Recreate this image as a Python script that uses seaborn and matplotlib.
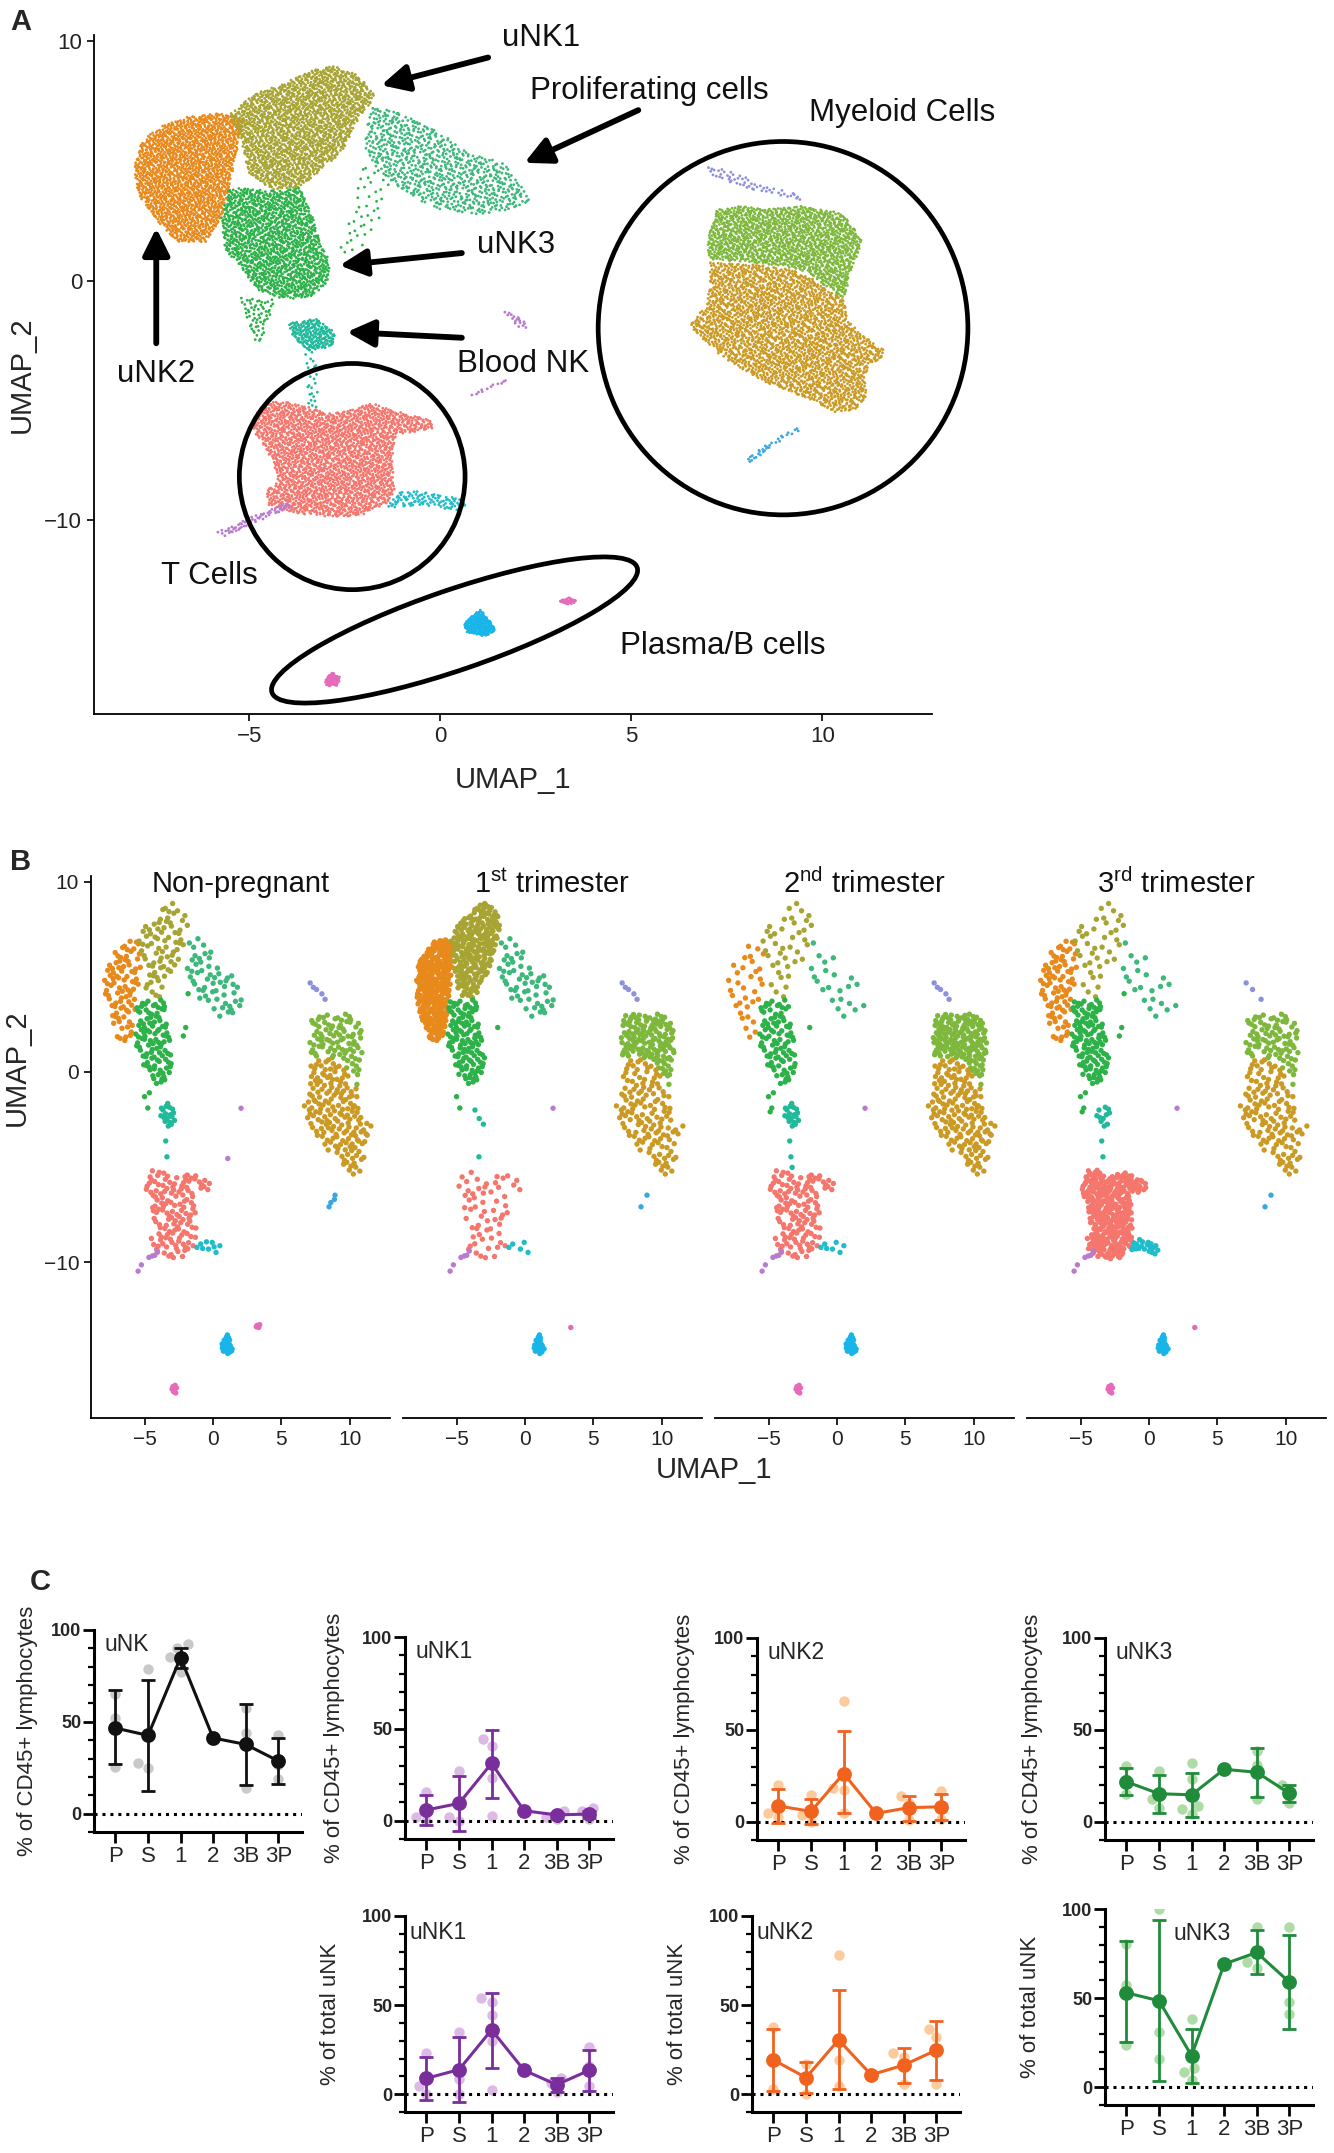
import numpy as np
import pandas as pd
import matplotlib
matplotlib.use("Agg")
import matplotlib.pyplot as plt
import seaborn as sns
from matplotlib.path import Path
from matplotlib.patches import Ellipse
from matplotlib.transforms import IdentityTransform
from matplotlib.ticker import MultipleLocator

# ======================= DATA =======================
# --- Panel A/B: cluster outlines in UMAP coordinates
UNK2_X = [-8.02, -7.81, -7.19, -6.57, -5.74, -5.12, -5.33, -5.53, -5.74, -6.15, -6.88, -7.40, -7.91]
UNK2_Y = [4.74, 5.87, 6.58, 6.86, 7.00, 6.72, 5.45, 3.89, 2.62, 1.63, 1.63, 2.48, 3.60]
UNK1_X = [-5.53, -4.81, -4.08, -3.26, -2.74, -2.12, -1.70, -2.22, -2.53, -3.26, -3.67, -4.40, -5.02, -5.22, -5.43]
UNK1_Y = [7.00, 7.85, 8.27, 8.84, 8.98, 8.56, 7.71, 6.58, 5.45, 4.46, 3.89, 3.82, 4.46, 5.87, 6.72]
PROLIF_X = [-1.81, -1.19, -0.15, 0.89, 1.71, 2.02, 2.44, 1.82, 0.89, -0.15, -0.98, -1.70, -2.01]
PROLIF_Y = [7.28, 7.14, 6.29, 5.30, 4.88, 4.17, 3.32, 2.97, 2.76, 3.04, 3.75, 4.74, 5.73]
TRAIL_X = [-2.00, -1.30, -1.60, -2.20, -2.70, -2.30]
TRAIL_Y = [5.00, 4.30, 2.50, 1.00, 1.20, 3.00]
UNK3_X = [-5.53, -4.29, -3.67, -3.36, -3.15, -2.89, -2.95, -3.36, -4.08, -4.81, -5.22, -5.64, -5.74]
UNK3_Y = [3.89, 3.75, 3.89, 2.76, 1.63, 0.78, -0.07, -0.64, -0.78, -0.35, 0.50, 1.34, 2.62]
UNK3T_X = [-5.25, -4.30, -4.50, -4.60, -4.85, -5.10]
UNK3T_Y = [-0.70, -0.80, -1.60, -2.50, -2.50, -1.50]
BLOOD_X = [-3.97, -3.26, -2.74, -2.84, -3.46, -3.88]
BLOOD_Y = [-1.77, -1.56, -2.19, -2.76, -2.90, -2.33]
BLOODT_X = [-3.55, -3.25, -3.20, -3.45]
BLOODT_Y = [-2.80, -2.80, -5.30, -5.30]
TC_X = [-4.79, -4.27, -3.65, -2.81, -1.77, -1.25, -0.21, -0.16, -1.15, -1.25, -1.20, -1.35, -1.98, -2.60, -3.65, -4.48, -4.58, -4.27, -4.38, -4.69, -4.90]
TC_Y = [-5.40, -4.98, -5.20, -5.55, -5.12, -5.40, -5.85, -6.20, -6.40, -7.55, -8.70, -9.25, -9.75, -9.89, -9.75, -9.40, -8.82, -8.40, -7.55, -6.70, -6.27]
TTAIL_X = [-1.46, -1.04, -0.52, 0.10, 0.52, 0.78, 0.42, -0.52]
TTAIL_Y = [-9.51, -8.79, -8.79, -8.94, -9.15, -9.44, -9.58, -9.37]
PURP1_X = [-5.85, -4.00, -3.90, -5.70]
PURP1_Y = [-10.50, -9.20, -9.45, -10.70]
PURP2_X = [1.45, 1.85, 2.20, 2.25, 2.05, 1.80]
PURP2_Y = [-1.20, -1.35, -1.60, -2.00, -1.95, -1.50]
PURP3_X = [0.75, 1.75, 1.80, 0.80]
PURP3_Y = [-4.75, -4.05, -4.20, -4.85]
MYEG_X = [7.23, 7.75, 8.54, 9.41, 10.46, 10.81, 11.02, 10.98, 10.72, 10.63, 10.28, 9.67, 8.97, 8.10, 7.05, 6.97, 7.05]
MYEG_Y = [2.99, 3.13, 2.99, 3.13, 2.85, 2.29, 1.73, 1.18, 0.34, -0.77, -0.49, 0.34, 0.62, 0.76, 0.90, 1.45, 2.15]
MYEO_X = [7.05, 8.10, 8.97, 9.67, 10.28, 10.63, 10.63, 11.07, 11.59, 11.59, 11.24, 11.11, 11.16, 10.89, 10.37, 9.67, 8.97, 8.10, 7.23, 6.53, 6.71, 6.97, 7.05]
MYEO_Y = [0.76, 0.69, 0.55, 0.20, -0.49, -0.91, -1.61, -2.30, -2.86, -3.28, -3.42, -4.11, -4.81, -5.36, -5.50, -4.95, -4.53, -3.97, -2.99, -1.88, -1.46, -1.04, -0.21]
LAV_X = [6.95, 7.60, 8.60, 9.45, 9.40, 8.50, 7.60, 7.00]
LAV_Y = [4.85, 4.55, 3.95, 3.55, 3.30, 3.65, 4.10, 4.50]
BLUE_X = [8.10, 8.50, 9.00, 9.45, 9.35, 8.85, 8.35, 8.05]
BLUE_Y = [-7.65, -7.15, -6.60, -6.25, -6.15, -6.50, -7.05, -7.40]
PLASMA_X = [0.60, 0.85, 1.05, 1.30, 1.45, 1.15, 0.70]
PLASMA_Y = [-14.30, -13.95, -13.75, -14.20, -14.65, -14.85, -14.70]
PINK1_X = [-3.05, -2.85, -2.62, -2.68, -2.95]
PINK1_Y = [-16.75, -16.35, -16.55, -16.90, -16.95]
PINK2_X = [3.10, 3.35, 3.60, 3.35]
PINK2_Y = [-13.40, -13.22, -13.38, -13.55]

CLUSTER_NAMES = ["uNK2", "uNK1", "Prolif", "uNK3", "uNK3", "uNK3", "BloodNK", "BloodNK", "T", "Ttail",
                 "Purple", "Purple", "Purple", "MyeG", "MyeGold", "Lav", "Blue", "Plasma", "Pink", "Pink"]
OUTLINES = [(UNK2_X, UNK2_Y), (UNK1_X, UNK1_Y), (PROLIF_X, PROLIF_Y), (TRAIL_X, TRAIL_Y),
            (UNK3_X, UNK3_Y), (UNK3T_X, UNK3T_Y), (BLOOD_X, BLOOD_Y), (BLOODT_X, BLOODT_Y),
            (TC_X, TC_Y), (TTAIL_X, TTAIL_Y), (PURP1_X, PURP1_Y), (PURP2_X, PURP2_Y), (PURP3_X, PURP3_Y),
            (MYEG_X, MYEG_Y), (MYEO_X, MYEO_Y), (LAV_X, LAV_Y), (BLUE_X, BLUE_Y),
            (PLASMA_X, PLASMA_Y), (PINK1_X, PINK1_Y), (PINK2_X, PINK2_Y)]
# relative cell density of each outline (cells per UMAP unit^2)
DENS_A = [165, 150, 75, 14, 145, 60, 170, 40, 150, 95, 110, 110, 90, 150, 130, 60, 110, 420, 420, 330]
DENS_NP = [8, 6, 5, 1.5, 10, 3, 14, 3, 9, 8, 12, 14, 12, 9, 9, 8, 12, 45, 35, 35]
DENS_T1 = [25, 18, 5, 0.8, 12, 1.5, 2, 1.5, 4, 3, 12, 8, 0, 14, 7, 8, 9, 30, 0, 12]
DENS_T2 = [3, 3, 2, 0.8, 9, 4, 14, 4, 9, 7, 12, 8, 8, 16, 9, 8, 0, 45, 35, 0]
DENS_T3 = [8, 3, 2, 1.5, 12, 4, 8, 3, 22, 18, 12, 8, 0, 9, 7, 5, 5, 30, 35, 12]
FACET_TITLES = ["Non-pregnant", r"1$^{\rm st}$ trimester", r"2$^{\rm nd}$ trimester", r"3$^{\rm rd}$ trimester"]

PALETTE = {"uNK2": "#E8891C", "uNK1": "#A8A433", "Prolif": "#3BB87A", "uNK3": "#2DB24A",
           "BloodNK": "#20B99C", "T": "#F4766D", "Ttail": "#20BCC9", "Purple": "#B87BD0",
           "MyeG": "#7DB83C", "MyeGold": "#CB9A24", "Lav": "#8D91DC", "Blue": "#3AA7E3",
           "Plasma": "#19B5E8", "Pink": "#E56AB9"}

# annotation labels of panel A (text, x, y) and arrows (tail -> head)
LABEL_TEXT = ["uNK1", "Proliferating cells", "Myeloid Cells", "uNK3", "Blood NK", "uNK2", "T Cells", "Plasma/B cells"]
LABEL_X = [2.63, 5.47, 12.09, 1.98, 2.16, -7.44, -6.05, 7.39]
LABEL_Y = [10.13, 7.94, 7.01, 1.51, -3.48, -3.88, -12.34, -15.26]
ARROW_TAIL_X = [1.25, 5.18, 0.56, 0.56, -7.44]
ARROW_TAIL_Y = [9.33, 7.13, 1.16, -2.38, -2.61]
ARROW_HEAD_X = [-1.55, 2.20, -2.64, -2.45, -7.44]
ARROW_HEAD_Y = [8.17, 4.93, 0.64, -2.14, 2.20]

# --- Panel C
CATS = ["P", "S", "1", "2", "3B", "3P"]
NAN = np.nan
UNK_MEAN = [46.6, 42.6, 85.0, 41.2, 37.7, 28.7]
UNK_LO = [27.2, 12.5, 79.5, NAN, 15.6, 16.3]
UNK_HI = [67.2, 72.8, 90.4, NAN, 59.9, 41.4]
UNK_DOTS = [[65, 52, 25.6], [78.6, 24.9, 27.4], [92.2, 90.4, 85.3, 85, 77.3], [41.2], [57.7, 43.7, 13.8], [42.8, 26.5, 18.7]]

UNK1C_MEAN = [5.8, 9.4, 31.2, 5.4, 3.1, 3.6]
UNK1C_LO = [-2.4, -5.6, 12.5, NAN, 1.6, 1.6]
UNK1C_HI = [13.8, 24.5, 49.6, NAN, 4.3, 5.3]
UNK1C_DOTS = [[15.4, 0, 2.2], [27.2, 0, 2.2], [44.2, 40.6, 23, 2.5], [5.4], [5.3, 1.0, 2.0], [7, 5.3, 1.0]]

UNK2C_MEAN = [8.5, 5.6, 26.2, 4.5, 7.6, 8.1]
UNK2C_LO = [-0.5, -1.4, 4.5, NAN, 0.4, 0.9]
UNK2C_HI = [17.9, 12.5, 49.1, NAN, 13.9, 15.2]
UNK2C_DOTS = [[19.9, 2.7, 4.9], [14.3, 0, 3.4], [65.9, 18.4, 17, 4.5], [4.5], [13.9, 9.9, 0.9], [16.6, 1.6]]

UNK3C_MEAN = [21.7, 15.2, 14.6, 28.5, 26.9, 15.5]
UNK3C_LO = [14.6, 4.9, 2.7, NAN, 13.5, 10.6]
UNK3C_HI = [29.1, 25.5, 26.5, NAN, 40.1, 20.2]
UNK3C_DOTS = [[30.1, 23, 15], [27.4, 12.1, 7.6], [31.9, 23.3, 8.5, 7, 4], [28.5], [38.3, 31, 12.1], [20.2, 16.1, 10.3]]

UNK1T_MEAN = [8.9, 13.8, 36.1, 13.4, 5.3, 13.4]
UNK1T_LO = [-3.4, -4.4, 14.7, NAN, 1.1, 2.0]
UNK1T_HI = [21.0, 31.9, 56.8, NAN, 9.3, 24.7]
UNK1T_DOTS = [[23.2, 4.4, 0], [34.7, 8.3, 0], [54.1, 51.9, 44.6, 30.1, 2.5], [13.4], [8.9, 6.5, 1.5], [26.5, 15.6, 4.7]]

UNK2T_MEAN = [19.2, 9.3, 30.5, 10.9, 16.3, 24.7]
UNK2T_LO = [1.8, 0.7, 2.9, NAN, 6.5, 8.0]
UNK2T_HI = [36.5, 18.1, 58.3, NAN, 26.1, 41.0]
UNK2T_DOTS = [[37.7, 18.3, 2.9], [0, 9.3, 17], [77.9, 29.2, 19.2, 4.7], [10.9], [23.2, 21.1, 5.6], [36.5, 31.9, 5.6]]

UNK3T_MEAN = [53.0, 48.5, 17.7, 69.1, 75.6, 59.0]
UNK3T_LO = [25.5, 3.3, 2.5, NAN, 63.5, 32.5]
UNK3T_HI = [81.9, 93.7, 32.7, NAN, 88.2, 85.5]
UNK3T_DOTS = [[80.1, 57.1, 23.5], [100, 30.9, 15.6], [38, 10.5, 8.3, 4.2], [69.1], [90.1, 67.1, 70], [89.7, 47.6, 40.9]]

BLACK, GREY = "#111111", "#C9C9C9"
PURPLE, LPURPLE = "#7A2E9C", "#DDB9E6"
ORANGE, LORANGE = "#F1621F", "#FBCB9D"
GREEN, LGREEN = "#1F8B3B", "#AEDBA6"

# ======================= STYLE =======================
sns.set_theme(style="ticks")
plt.rcParams["font.family"] = ["Liberation Sans", "DejaVu Sans"]
plt.rcParams["mathtext.fontset"] = "custom"
plt.rcParams["mathtext.rm"] = "Liberation Sans"
plt.rcParams["mathtext.it"] = "Liberation Sans:italic"
plt.rcParams["mathtext.bf"] = "Liberation Sans:bold"
SANS = ["Liberation Sans", "DejaVu Sans"]

W, H = 1334, 2153
fig = plt.figure(figsize=(W / 100, H / 100), dpi=100)
fig.patch.set_facecolor("white")


def ax_px(left, top, width, height):
    return fig.add_axes([left / W, 1 - (top + height) / H, width / W, height / H])


def halton(n, base):
    i = np.arange(1, n + 1)
    f, r = 1.0, np.zeros(n)
    while (i > 0).any():
        f /= base
        r += f * (i % base)
        i = i // base
    return r


def fill_outline(xs, ys, dens):
    verts = np.column_stack([xs, ys])
    lo, hi = verts.min(0), verts.max(0)
    n = int(np.prod(hi - lo) * dens)
    if n <= 0:
        return np.empty((0, 2))
    uv = np.column_stack([halton(n, 2), halton(n, 3)])
    pts = lo + uv * (hi - lo)
    return pts[Path(verts).contains_points(pts)]


def cells_frame(dens):
    rows = []
    for (xs, ys), name, d in zip(OUTLINES, CLUSTER_NAMES, dens):
        p = fill_outline(xs, ys, d)
        rows.append(pd.DataFrame({"UMAP_1": p[:, 0], "UMAP_2": p[:, 1], "cluster": name}))
    return pd.concat(rows, ignore_index=True)


def umap_axes_style(ax, labelsize, show_y=True):
    sns.despine(ax=ax)
    for s in ["left", "bottom"]:
        ax.spines[s].set_linewidth(1.3)
        ax.spines[s].set_color("black")
    ax.tick_params(axis="both", length=5, width=1.2, color="black", labelsize=labelsize,
                   labelcolor="#222222", direction="out", bottom=True, left=show_y)
    if not show_y:
        ax.spines["left"].set_visible(False)
        ax.set_yticks([])
    ax.set_xlabel("")
    ax.set_ylabel("")


# ======================= PANEL A =======================
XL, YL = (-9.07, 12.87), (-18.1, 10.27)
axA = ax_px(94, 35, 838, 679)
dfA = cells_frame(DENS_A)
sns.scatterplot(data=dfA, x="UMAP_1", y="UMAP_2", hue="cluster", palette=PALETTE, s=4,
                linewidth=0, legend=False, ax=axA, rasterized=True)
axA.set_xlim(*XL)
axA.set_ylim(*YL)
axA.set_xticks([-5, 0, 5, 10])
axA.set_yticks([-10, 0, 10])
umap_axes_style(axA, 16)
axA.set_xlabel("UMAP_1", fontsize=21, labelpad=14)
axA.set_ylabel("UMAP_2", fontsize=21, labelpad=6)

for t, x, y in zip(LABEL_TEXT, LABEL_X, LABEL_Y):
    axA.text(x, y, t, fontsize=22.5, ha="center", va="center", color="#111111", clip_on=False)
for tx, ty, hx, hy in zip(ARROW_TAIL_X, ARROW_TAIL_Y, ARROW_HEAD_X, ARROW_HEAD_Y):
    axA.annotate("", xy=(hx, hy), xytext=(tx, ty),
                 arrowprops=dict(arrowstyle="-|>,head_length=0.9,head_width=0.45", lw=4.2,
                                 color="black", shrinkA=0, shrinkB=0, mutation_scale=18))
axA.add_patch(Ellipse((8.97, -1.98), 9.68, 15.6, fill=False, lw=3.4, ec="black", clip_on=False))
axA.add_patch(Ellipse((-2.31, -8.18), 5.91, 9.45, fill=False, lw=3.4, ec="black", clip_on=False))
cx, cy = axA.transData.transform((0.37, -14.59))
fig.add_artist(Ellipse((cx, cy), 386, 80, angle=18.9, fill=False, lw=3.4, ec="black",
                       transform=IdentityTransform()))
fig.text(10 / W, 1 - 22 / H, "A", fontsize=21, fontweight="bold", va="center", ha="left")

# ======================= PANEL B =======================
XB, YB = (-8.93, 12.95), (-18.2, 10.3)
facet_dens = [DENS_NP, DENS_T1, DENS_T2, DENS_T3]
for k, (title, dens) in enumerate(zip(FACET_TITLES, facet_dens)):
    ax = ax_px(91 + k * 312, 876, 299, 542)
    d = cells_frame(dens)
    sns.scatterplot(data=d, x="UMAP_1", y="UMAP_2", hue="cluster", palette=PALETTE, s=15,
                    linewidth=0, legend=False, ax=ax, rasterized=True)
    ax.set_xlim(*XB)
    ax.set_ylim(*YB)
    ax.set_xticks([-5, 0, 5, 10])
    ax.set_yticks([-10, 0, 10])
    umap_axes_style(ax, 15, show_y=(k == 0))
    ax.text(0.5, 0.985, title, transform=ax.transAxes, ha="center", va="center", fontsize=21,
            color="#111111")
fig.text(17 / W, 1 - 1068 / H, "UMAP_2", rotation=90, fontsize=21, ha="center", va="center")
fig.text(714 / W, 1 - 1470 / H, "UMAP_1", fontsize=21, ha="center", va="center")
fig.text(10 / W, 1 - 862 / H, "B", fontsize=21, fontweight="bold", va="center", ha="left")

# ======================= PANEL C =======================
def draw_c(ax, mean, lo, hi, dots, lc, dc, name, name_x, name_y, ylab, label_x):
    dd = pd.DataFrame({"cat": [CATS[i] for i, vs in enumerate(dots) for _ in vs],
                       "val": [v for vs in dots for v in vs]})
    sns.swarmplot(data=dd, x="cat", y="val", order=CATS, color=dc, size=7.5, linewidth=0,
                  ax=ax, zorder=1, warn_thresh=1)
    ax.axhline(0, color="black", lw=2.2, ls=(0, (1, 1.6)), zorder=2)
    m = np.asarray(mean, float)
    l = np.asarray(lo, float)
    h = np.asarray(hi, float)
    ok = np.isfinite(l)
    xs = np.arange(len(CATS))[ok]
    ax.errorbar(xs, m[ok], yerr=[m[ok] - l[ok], h[ok] - m[ok]], fmt="none", ecolor=lc,
                elinewidth=2, capsize=5, capthick=2, zorder=3)
    dm = pd.DataFrame({"cat": CATS, "mean": mean})
    sns.pointplot(data=dm, x="cat", y="mean", order=CATS, color=lc, errorbar=None, markers="o",
                  markersize=9, linewidth=2.2, ax=ax, zorder=4)
    ax.set_xlim(-0.66, 5.73)
    ax.set_ylim(-10, 100)
    sns.despine(ax=ax)
    for s in ["left", "bottom"]:
        ax.spines[s].set_linewidth(2.2)
        ax.spines[s].set_color("black")
    ax.set_yticks([0, 50, 100])
    ax.yaxis.set_minor_locator(MultipleLocator(10))
    ax.tick_params(axis="both", which="major", length=8, width=2, color="black", direction="out",
                   bottom=True, left=True)
    ax.tick_params(axis="y", which="minor", length=4.5, width=1.6, color="black", left=True)
    ax.tick_params(axis="y", labelsize=13, pad=1)
    ax.tick_params(axis="x", labelsize=16, pad=2)
    for t in ax.get_yticklabels():
        t.set_fontweight("bold")
    ax.set_xlabel("")
    ax.set_ylabel(ylab, fontsize=16)
    ax.yaxis.set_label_coords(label_x, 0.5)
    ax.text(name_x, name_y, name, transform=ax.transAxes, ha="left", va="top", fontsize=16.5)


cd45 = "% of CD45+ lymphocytes"
tot = "% of total uNK"
draw_c(ax_px(94, 1630, 208, 202), UNK_MEAN, UNK_LO, UNK_HI, UNK_DOTS, BLACK, GREY,
       "uNK", 0.05, 0.985, cd45, -0.27)
draw_c(ax_px(405, 1637, 208, 202), UNK1C_MEAN, UNK1C_LO, UNK1C_HI, UNK1C_DOTS, PURPLE, LPURPLE,
       "uNK1", 0.05, 0.985, cd45, -0.29)
draw_c(ax_px(757, 1638, 208, 202), UNK2C_MEAN, UNK2C_LO, UNK2C_HI, UNK2C_DOTS, ORANGE, LORANGE,
       "uNK2", 0.05, 0.985, cd45, -0.30)
draw_c(ax_px(1105, 1638, 208, 202), UNK3C_MEAN, UNK3C_LO, UNK3C_HI, UNK3C_DOTS, GREEN, LGREEN,
       "uNK3", 0.05, 0.985, cd45, -0.30)
draw_c(ax_px(405, 1916, 208, 196), UNK1T_MEAN, UNK1T_LO, UNK1T_HI, UNK1T_DOTS, PURPLE, LPURPLE,
       "uNK1", 0.02, 0.975, tot, -0.31)
draw_c(ax_px(752, 1916, 208, 196), UNK2T_MEAN, UNK2T_LO, UNK2T_HI, UNK2T_DOTS, ORANGE, LORANGE,
       "uNK2", 0.02, 0.975, tot, -0.31)
draw_c(ax_px(1105, 1909, 208, 196), UNK3T_MEAN, UNK3T_LO, UNK3T_HI, UNK3T_DOTS, GREEN, LGREEN,
       "uNK3", 0.33, 0.935, tot, -0.31)
fig.text(30 / W, 1 - 1582 / H, "C", fontsize=21, fontweight="bold", va="center", ha="left")

fig.savefig("out.png", dpi=100, facecolor="white")
